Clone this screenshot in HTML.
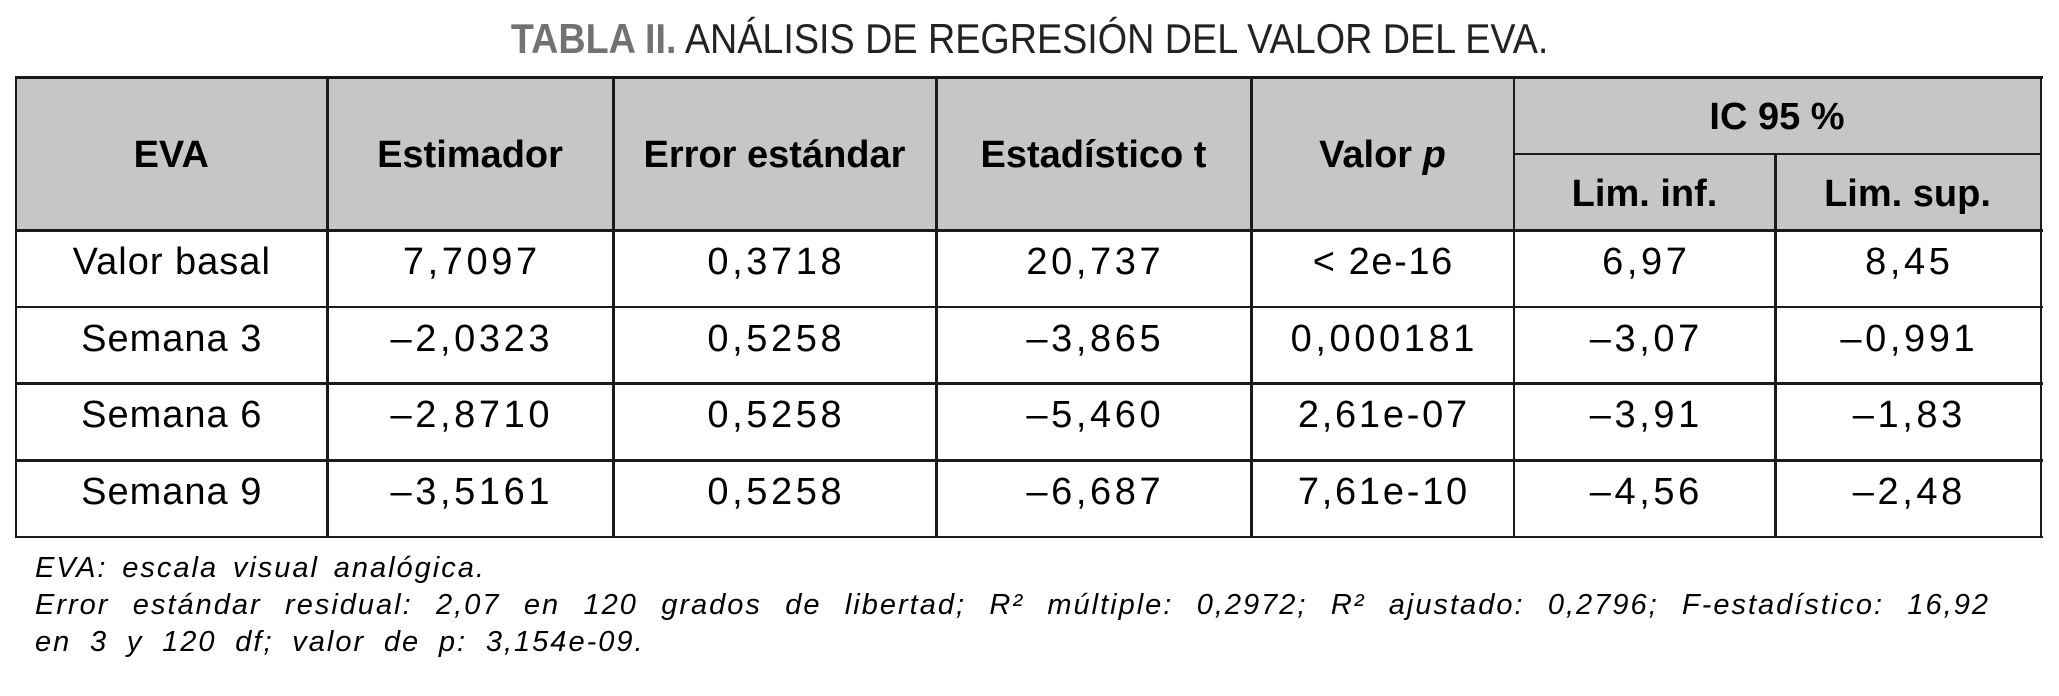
<!DOCTYPE html>
<html>
<head>
<meta charset="utf-8">
<style>
  html,body{margin:0;padding:0;background:#fff;}
  body{width:2059px;height:696px;position:relative;overflow:hidden;font-family:"Liberation Sans",Arial,sans-serif;color:#000;}
  .h{position:absolute;background:#1a1a1a;height:2.5px;}
  .v{position:absolute;background:#1a1a1a;width:2.5px;}
  .t{position:absolute;font-size:38px;line-height:38px;height:38px;text-align:center;white-space:nowrap;}
  .b{font-weight:bold;}
  .n{letter-spacing:3.6px;padding-left:3.6px;box-sizing:border-box;}
  .w{letter-spacing:1px;padding-left:1px;box-sizing:border-box;}
  .fn{position:absolute;left:35px;font-size:29px;line-height:29px;font-style:italic;white-space:nowrap;letter-spacing:2px;}
</style>
</head>
<body>

<!-- Title -->
<div style="position:absolute;left:0;top:18px;width:2059px;text-align:center;font-size:42px;line-height:42px;white-space:nowrap;">
  <span style="display:inline-block;transform:scaleX(0.898);transform-origin:50% 50%;"><span style="font-weight:bold;color:#727272;">TABLA II.</span> <span style="color:#222;">ANÁLISIS DE REGRESIÓN DEL VALOR DEL EVA.</span></span>
</div>

<!-- header background -->
<div style="position:absolute;left:15px;top:77px;width:2026px;height:153px;background:#c6c6c6;"></div>

<!-- horizontal lines -->
<div class="h" style="left:14.5px;top:76px;width:2028px;"></div>
<div class="h" style="left:1514px;top:152.5px;width:527px;"></div>
<div class="h" style="left:14.5px;top:229px;width:2028px;"></div>
<div class="h" style="left:14.5px;top:305.5px;width:2028px;"></div>
<div class="h" style="left:14.5px;top:382px;width:2028px;"></div>
<div class="h" style="left:14.5px;top:459px;width:2028px;"></div>
<div class="h" style="left:14.5px;top:535.5px;width:2028px;"></div>

<!-- vertical lines -->
<div class="v" style="left:14.5px;top:76px;height:462px;"></div>
<div class="v" style="left:326px;top:76px;height:462px;"></div>
<div class="v" style="left:612px;top:76px;height:462px;"></div>
<div class="v" style="left:935px;top:76px;height:462px;"></div>
<div class="v" style="left:1250px;top:76px;height:462px;"></div>
<div class="v" style="left:1512.5px;top:76px;height:462px;"></div>
<div class="v" style="left:1774px;top:152.5px;height:385.5px;"></div>
<div class="v" style="left:2039.5px;top:76px;height:462px;"></div>

<!-- header text (baseline 168) -->
<div class="t b" style="left:15.5px;width:311.5px;top:135.8px;">EVA</div>
<div class="t b" style="left:327px;width:286px;top:135.8px;">Estimador</div>
<div class="t b" style="left:613px;width:323px;top:135.8px;">Error estándar</div>
<div class="t b" style="left:936px;width:315px;top:135.8px;">Estadístico t</div>
<div class="t b" style="left:1251px;width:263px;top:135.8px;">Valor <i>p</i></div>
<div class="t b" style="left:1514px;width:526px;top:97.8px;">IC 95 %</div>
<div class="t b" style="left:1514px;width:261px;top:174.8px;">Lim. inf.</div>
<div class="t b" style="left:1775px;width:265px;top:174.8px;">Lim. sup.</div>

<!-- Row 1 -->
<div class="t w" style="left:15.5px;width:311.5px;top:243.3px;">Valor basal</div>
<div class="t n" style="left:327px;width:286px;top:243.3px;">7,7097</div>
<div class="t n" style="left:613px;width:323px;top:243.3px;">0,3718</div>
<div class="t n" style="left:936px;width:315px;top:243.3px;">20,737</div>
<div class="t" style="left:1251px;width:263px;top:243.3px;letter-spacing:1.6px;padding-left:1.6px;box-sizing:border-box;">&lt; 2e-16</div>
<div class="t n" style="left:1514px;width:261px;top:243.3px;">6,97</div>
<div class="t n" style="left:1775px;width:265px;top:243.3px;">8,45</div>

<!-- Row 2 -->
<div class="t w" style="left:15.5px;width:311.5px;top:319.8px;">Semana 3</div>
<div class="t n" style="left:327px;width:286px;top:319.8px;">–2,0323</div>
<div class="t n" style="left:613px;width:323px;top:319.8px;">0,5258</div>
<div class="t n" style="left:936px;width:315px;top:319.8px;">–3,865</div>
<div class="t n" style="left:1251px;width:263px;top:319.8px;">0,000181</div>
<div class="t n" style="left:1514px;width:261px;top:319.8px;">–3,07</div>
<div class="t n" style="left:1775px;width:265px;top:319.8px;">–0,991</div>

<!-- Row 3 -->
<div class="t w" style="left:15.5px;width:311.5px;top:396.3px;">Semana 6</div>
<div class="t n" style="left:327px;width:286px;top:396.3px;">–2,8710</div>
<div class="t n" style="left:613px;width:323px;top:396.3px;">0,5258</div>
<div class="t n" style="left:936px;width:315px;top:396.3px;">–5,460</div>
<div class="t" style="left:1251px;width:263px;top:396.3px;letter-spacing:2.75px;padding-left:2.75px;box-sizing:border-box;">2,61e-07</div>
<div class="t n" style="left:1514px;width:261px;top:396.3px;">–3,91</div>
<div class="t n" style="left:1775px;width:265px;top:396.3px;">–1,83</div>

<!-- Row 4 -->
<div class="t w" style="left:15.5px;width:311.5px;top:472.8px;">Semana 9</div>
<div class="t n" style="left:327px;width:286px;top:472.8px;">–3,5161</div>
<div class="t n" style="left:613px;width:323px;top:472.8px;">0,5258</div>
<div class="t n" style="left:936px;width:315px;top:472.8px;">–6,687</div>
<div class="t" style="left:1251px;width:263px;top:472.8px;letter-spacing:2.75px;padding-left:2.75px;box-sizing:border-box;">7,61e-10</div>
<div class="t n" style="left:1514px;width:261px;top:472.8px;">–4,56</div>
<div class="t n" style="left:1775px;width:265px;top:472.8px;">–2,48</div>

<!-- Footnotes -->
<div class="fn" style="top:553.5px;word-spacing:4.7px;">EVA: escala visual analógica.</div>
<div class="fn" style="top:590.5px;width:1955px;white-space:normal;text-align:justify;text-align-last:justify;">Error estándar residual: 2,07 en 120 grados de libertad; R² múltiple: 0,2972; R² ajustado: 0,2796; F-estadístico: 16,92</div>
<div class="fn" style="top:627.5px;word-spacing:8.7px;">en 3 y 120 df; valor de p: 3,154e-09.</div>

</body>
</html>
